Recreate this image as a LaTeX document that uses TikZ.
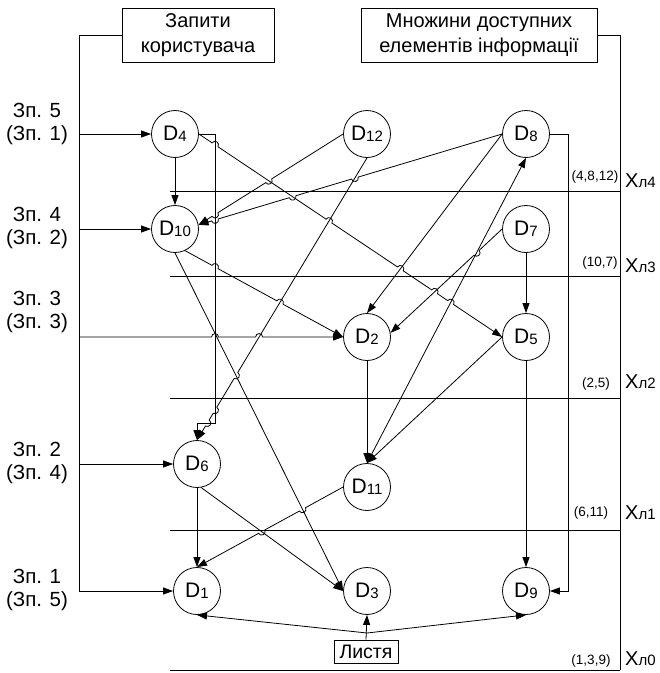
\documentclass[tikz,border=0pt]{standalone}
\usepackage{fontspec}
\setmainfont{Liberation Sans}
\usetikzlibrary{arrows.meta,calc}
\newcommand{\Dn}[1]{{\fontsize{21}{21}\selectfont D}{\fontsize{15}{15}\selectfont\raisebox{-1.5pt}{#1}}}
\newcommand{\Xl}[1]{{\fontsize{20}{20}\selectfont X}{\fontsize{15}{15}\selectfont л#1}}
\def\jr{3.5pt}
\newcommand{\jline}[4][arr]{%
  \pgfmathanglebetweenpoints{\pgfpointanchor{#2}{center}}{\pgfpointanchor{#3}{center}}%
  \let\ja\pgfmathresult
  \draw[#1] (#2) foreach \c in {#4}{ -- ($(\c)!\jr!(#2)$) arc[start angle=\ja+180, end angle=\ja, radius=\jr] } -- (#3);}
\begin{document}
\begin{tikzpicture}[x=1pt,y=-1pt,
  every node/.style={inner sep=0pt},
  dn/.style={circle, draw, minimum size=47pt, line width=0.8pt},
  ln/.style={line width=0.8pt},
  arr/.style={ln, -{Triangle[length=10pt,width=7pt]}},
  darr/.style={ln, {Triangle[length=10pt,width=7pt]}-{Triangle[length=10pt,width=7pt]}},
  lab/.style={align=center, font=\fontsize{20.5}{23}\selectfont},
  hbox/.style={draw, line width=0.8pt, align=center, font=\fontsize{20}{25}\selectfont},
  lvl/.style={font=\fontsize{13.5}{13.5}\selectfont},
  xl/.style={anchor=west}
]
\useasboundingbox (0,0) rectangle (660,673);

% header boxes
\node[hbox, minimum width=152pt, minimum height=54pt] (boxL) at (198,35) {Запити\\користувача};
\node[hbox, minimum width=236pt, minimum height=54pt] (boxR) at (479,35) {Множини доступних\\елементів інформації};

% nodes
\node[dn] (D4)  at (175,134) {\Dn{4}};
\node[dn] (D12) at (367,134) {\Dn{12}};
\node[dn] (D8)  at (526,134) {\Dn{8}};
\node[dn] (D10) at (175,229) {\Dn{10}};
\node[dn] (D7)  at (526,229) {\Dn{7}};
\node[dn] (D2)  at (367,337) {\Dn{2}};
\node[dn] (D5)  at (526,337) {\Dn{5}};
\node[dn] (D6)  at (197,464) {\Dn{6}};
\node[dn] (D11) at (367,487) {\Dn{11}};
\node[dn] (D1)  at (197,591) {\Dn{1}};
\node[dn] (D3)  at (367,591) {\Dn{3}};
\node[dn] (D9)  at (526,591) {\Dn{9}};
\node[draw, line width=0.8pt, minimum width=64pt, minimum height=23pt, font=\fontsize{19.5}{19.5}\selectfont] (leaf) at (366,651.5) {Листя};

% query labels
\node[lab] (q5) at (37,124) {Зп. 5\\(Зп. 1)};
\node[lab] (q4) at (37,228) {Зп. 4\\(Зп. 2)};
\node[lab] (q3) at (37,312) {Зп. 3\\(Зп. 3)};
\node[lab] (q2) at (37,463) {Зп. 2\\(Зп. 4)};
\node[lab] (q1) at (37,590) {Зп. 1\\(Зп. 5)};

% level labels
\node[lvl] (s4) at (595,177) {(4,8,12)};
\node[lvl] (s3) at (600,263) {(10,7)};
\node[lvl] (s2) at (596,384) {(2,5)};
\node[lvl] (s1) at (591,513) {(6,11)};
\node[lvl] (s0) at (591,661) {(1,3,9)};
\node[xl] (X4) at (625,181) {\Xl{4}};
\node[xl] (X3) at (625,266) {\Xl{3}};
\node[xl] (X2) at (625,382) {\Xl{2}};
\node[xl] (X1) at (625,513) {\Xl{1}};
\node[xl] (X0) at (625,659) {\Xl{0}};

% coordinates
\coordinate (tr) at (79,591);
\coordinate (in5) at (79,134);
\coordinate (in4) at (79,229);
\coordinate (in3) at (79,337);
\coordinate (in2) at (79,464);
\coordinate (rt) at (620,670);
\coordinate (k0) at (215,134);
\coordinate (k1) at (215,423);
\coordinate (k1b) at (197,423);
\coordinate (k2) at (568,591);
\coordinate (sp) at (367,633);
\foreach \n/\y in {4/191,3/276,2/398,1/530,0/670}{
  \coordinate (la\n) at (170,\y);
  \coordinate (lb\n) at (620,\y);
}
\coordinate (p4e) at (D4.east);
\coordinate (p5w) at (D5.west);
\coordinate (p12w) at (D12.west);
\coordinate (p12s) at (D12.south);
\coordinate (p10a) at (D10.10);
\coordinate (p8w) at (D8.west);
\coordinate (p8s) at (D8.south);
\coordinate (p2n) at (D2.north);
\coordinate (p2w) at (D2.west);
\coordinate (p2a) at (D2.10);
\coordinate (p7w) at (D7.west);
\coordinate (p11n) at (D11.north);
\coordinate (p11w) at (D11.west);
\coordinate (p10b) at (D10.-65);
\coordinate (p10s) at (D10.south);
\coordinate (p3w) at (D3.west);
\coordinate (p6n) at (D6.north);
\coordinate (p6b) at (D6.-80);
\coordinate (p1n) at (D1.north);

% crossing points (line jumps)
\coordinate (xa) at (intersection of p4e--p5w and k0--k1);
\coordinate (xe) at (intersection of p4e--p5w and p12s--p6n);
\coordinate (xo) at (intersection of p4e--p5w and p8w--p2n);
\coordinate (xp) at (intersection of p4e--p5w and p7w--p2a);
\coordinate (xq) at (intersection of p4e--p5w and p11n--p8s);
\coordinate (xb) at (intersection of p12w--p10a and p4e--p5w);
\coordinate (xf1) at (intersection of p12w--p10a and k0--k1);
\coordinate (xd) at (intersection of p8w--p10a and p12s--p6n);
\coordinate (xc) at (intersection of p8w--p10a and p4e--p5w);
\coordinate (xf2) at (intersection of p8w--p10a and k0--k1);
\coordinate (xg) at (intersection of p10b--p2w and k0--k1);
\coordinate (xh) at (intersection of p10b--p2w and p12s--p6n);
\coordinate (xi) at (intersection of in3--p2w and k0--k1);
\coordinate (xj) at (intersection of in3--p2w and p12s--p6n);
\coordinate (xk) at (intersection of p12s--p6n and p10s--p3w);
\coordinate (xl) at (intersection of p12s--p6n and k0--k1);
\coordinate (xl2) at (intersection of p12s--p6n and k1--k1b);
\coordinate (xr) at (intersection of p7w--p2a and p11n--p8s);
\coordinate (xm) at (intersection of p11w--p1n and p10s--p3w);
\coordinate (xn) at (intersection of p11w--p1n and p6b--p3w);

% frame lines
\draw[arr] (boxL.west) -| (tr) -- (D1.west);
\draw[ln] (boxR.east) -| (rt);
\foreach \n in {4,3,2,1,0}{ \draw[ln] (la\n) -- (lb\n); }

% inputs
\draw[arr] (in5) -- (D4.west);
\draw[arr] (in4) -- (D10.west);
\jline{in3}{p2w}{xi,xj}
\draw[arr] (in2) -- (D6.west);

% edges
\draw[arr] (D4) -- (D10);
\draw[arr] (D4.east) -- (k0) -- (k1) -- (k1b) -- (D6.north);
\jline{p4e}{p5w}{xa,xe,xo,xp,xq}
\jline{p12w}{p10a}{xb,xf1}
\jline{p12s}{p6n}{xk,xl,xl2}
\jline{p8w}{p10a}{xd,xc,xf2}
\draw[arr] (p8w) -- (p2n);
\draw[arr] (D8.east) -| (k2) -- (D9.east);
\draw[darr] (p11n) -- (p8s);
\jline{p7w}{p2a}{xr}
\draw[arr] (D7) -- (D5);
\draw[arr] (D2) -- (D11);
\draw[arr] (p5w) -- (p11n);
\draw[arr] (D5) -- (D9);
\jline{p10b}{p2w}{xg,xh}
\draw[arr] (p10s) -- (p3w);
\draw[arr] (D6) -- (D1);
\draw[arr] (p6b) -- (p3w);
\jline{p11w}{p1n}{xm,xn}
\draw[arr] (sp) -- (D1.south);
\draw[arr] (sp) -- (D9.south);
\draw[arr] (leaf.north) -- (D3.south);
\end{tikzpicture}
\end{document}
